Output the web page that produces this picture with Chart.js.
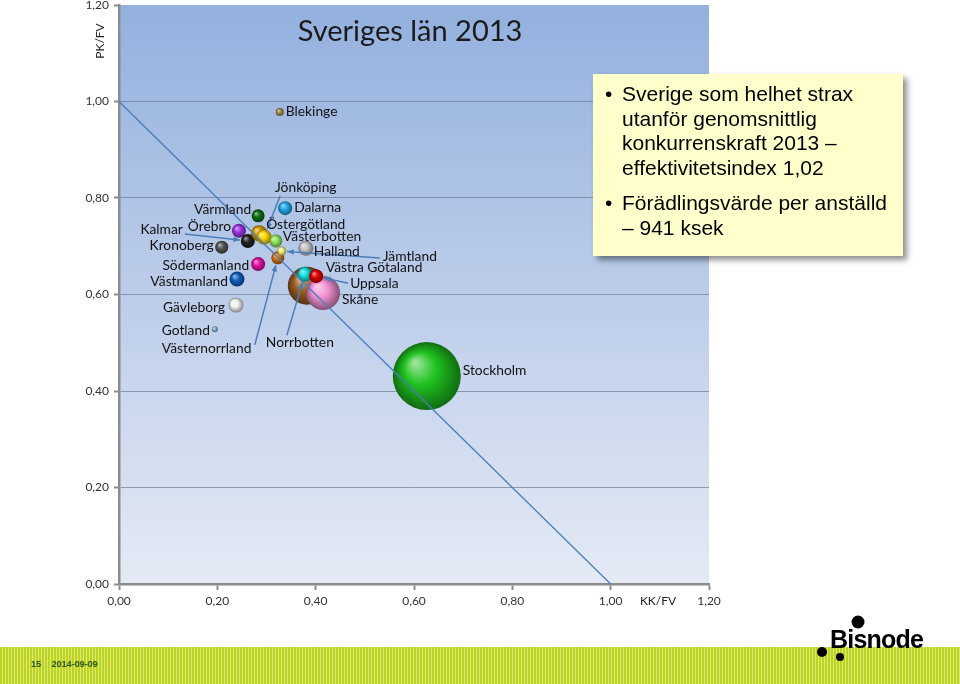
<!DOCTYPE html>
<html>
<head>
<meta charset="utf-8">
<script src="https://cdn.jsdelivr.net/npm/chart.js@4"></script>
<style>
  body { margin: 0; background: #fff; }
  #wrap { position: relative; width: 960px; height: 684px; overflow: hidden; }
  #graf { position: absolute; left: 0; top: 0; }
  #ruta {
    position: absolute; left: 593px; top: 74px; width: 310px; height: 182px;
    background: #ffffcc; box-shadow: 4px 4px 6px rgba(0,0,0,0.45);
    font-family: "Liberation Sans", Arial, sans-serif; font-size: 21px; color: #000;
    box-sizing: border-box; padding: 8px 0 0 29px; line-height: 24.7px; white-space: nowrap;
  }
  #ruta p { margin: 0 0 10px 0; position: relative; }
  #ruta p::before { content: "\2022"; position: absolute; left: -17px; }
  #fot {
    position: absolute; left: 0; top: 647px; width: 960px; height: 37px;
    background: repeating-linear-gradient(90deg, #bdd31c 0 2px, #dce97e 2px 3px);
  }
  #datum {
    position: absolute; left: 31px; top: 659px; font-family: "Liberation Sans", Arial, sans-serif;
    font-size: 9px; font-weight: bold; color: #2f5a16; word-spacing: 8px;
  }
  #logo { position: absolute; left: 812px; top: 612px; }
</style>
</head>
<body>
<div id="wrap">
  <canvas id="graf" width="960" height="684"></canvas>
  <div id="ruta">
    <p>Sverige som helhet strax<br>utanför genomsnittlig<br>konkurrenskraft 2013 –<br>effektivitetsindex 1,02</p>
    <p>Förädlingsvärde per anställd<br>– 941 ksek</p>
  </div>
  <div id="fot"></div>
  <div id="datum">15 2014-09-09</div>
  <svg id="logo" width="120" height="56">
    <circle cx="46" cy="10" r="6.5" fill="#000"/>
    <circle cx="10" cy="40" r="5" fill="#000"/>
    <circle cx="28" cy="45" r="4" fill="#000"/>
    <text x="18" y="36" font-family="Liberation Sans, Arial" font-size="25" font-weight="bold" fill="#000" letter-spacing="-0.8">Bisnode</text>
  </svg>
</div>
<script>
// län, ritordning bakifrån och fram
const regioner = ['Västra Götaland', 'Skåne', 'Norrbotten', 'Uppsala', 'Stockholm', 'Blekinge',
  'Värmland', 'Dalarna', 'Örebro', 'Kalmar', 'Kronoberg', 'Östergötland', 'Jönköping',
  'Västerbotten', 'Halland', 'Västernorrland', 'Jämtland', 'Södermanland', 'Västmanland',
  'Gävleborg', 'Gotland'];
const kkfv = [0.382, 0.415, 0.378, 0.401, 0.626, 0.327,
  0.283, 0.338, 0.244, 0.262, 0.209, 0.285, 0.295,
  0.319, 0.380, 0.323, 0.331, 0.283, 0.240,
  0.238, 0.195];
const pkfv = [0.618, 0.603, 0.642, 0.638, 0.431, 0.978,
  0.763, 0.779, 0.732, 0.711, 0.698, 0.727, 0.719,
  0.711, 0.696, 0.676, 0.690, 0.663, 0.632,
  0.578, 0.528];
const storlek = [19, 17, 7.5, 7, 34, 4,
  6.5, 7, 7, 7, 6.5, 8, 7.5,
  6.5, 7.5, 6.5, 4.5, 7, 7.5,
  7.5, 3];
const xTicks = [0, 0.2, 0.4, 0.6, 0.8, 1.0, 1.2];
const yTicks = [0, 0.2, 0.4, 0.6, 0.8, 1.0, 1.2];
const linjeX = [0, 1];
const linjeY = [1, 0];

const farger = ['#9a5f22', '#f292d2', '#12dede', '#e00000', '#1fc21f', '#a08a42',
  '#0b6b12', '#1fa8ea', '#9b32e2', '#222222', '#555555', '#d99a00', '#ffd400',
  '#8fe25e', '#c4c4c4', '#d2700e', '#eef07c', '#e212a2', '#0f5fc0',
  '#f2f2f2', '#86aed2'];

// etikettlägen relativt bubblan: [dx, dy, justering, pilstart dx, pilstart dy]
const etikettLage = {
  'Blekinge': [6, -1, 'left'],
  'Värmland': [-7, -6, 'right'],
  'Dalarna': [9, -1, 'left'],
  'Örebro': [-8, -4, 'right'],
  'Kalmar': [-65, -11, 'right', -63, -7],
  'Kronoberg': [-8, -2, 'right'],
  'Östergötland': [7, -9, 'left'],
  'Jönköping': [11, -50, 'left', 16, -41],
  'Västerbotten': [7, -4, 'left'],
  'Halland': [8, 3, 'left'],
  'Jämtland': [101, 5, 'left', 98, 7],
  'Västernorrland': [-116, 91, 'left', -23, 87],
  'Södermanland': [-9, 1, 'right'],
  'Västmanland': [-9, 2, 'right'],
  'Gävleborg': [-11, 2, 'right'],
  'Gotland': [-5, 1, 'right'],
  'Västra Götaland': [19, -18, 'left'],
  'Norrbotten': [-39, 68, 'left', -18, 61],
  'Uppsala': [34, 7, 'left', 32, 7],
  'Skåne': [19, 7, 'left'],
  'Stockholm': [36, -5, 'left']
};

const blanda = (hex, mot, t) => {
  const n = parseInt(hex.slice(1), 16);
  const c = [(n >> 16) & 255, (n >> 8) & 255, n & 255];
  return 'rgb(' + c.map((v, k) => Math.round(v + (mot[k] - v) * t)).join(',') + ')';
};
const fmt = v => Number(v).toFixed(2).replace('.', ',');
const linjeFarg = '#4a7ebb';
const textFont = 'Lato, "Open Sans", sans-serif';

function pil(ctx, x1, y1, x2, y2) {
  const a = Math.atan2(y2 - y1, x2 - x1);
  ctx.beginPath();
  ctx.moveTo(x1, y1);
  ctx.lineTo(x2, y2);
  ctx.stroke();
  ctx.beginPath();
  ctx.moveTo(x2, y2);
  ctx.lineTo(x2 - 7 * Math.cos(a - 0.4), y2 - 7 * Math.sin(a - 0.4));
  ctx.lineTo(x2 - 7 * Math.cos(a + 0.4), y2 - 7 * Math.sin(a + 0.4));
  ctx.closePath();
  ctx.fill();
}

const bakgrund = {
  id: 'bakgrund',
  beforeDraw(chart) {
    const { ctx, chartArea: a } = chart;
    const g = ctx.createLinearGradient(0, a.top, 0, a.bottom);
    g.addColorStop(0, '#93b0de');
    g.addColorStop(1, '#e5eaf5');
    ctx.save();
    ctx.fillStyle = g;
    ctx.fillRect(a.left, a.top, a.right - a.left, a.bottom - a.top);
    ctx.restore();
  }
};

const etiketter = {
  id: 'etiketter',
  afterDraw(chart) {
    const { ctx, scales } = chart;
    ctx.save();
    // titel
    ctx.fillStyle = '#1b1b1b';
    ctx.font = '29px ' + textFont;
    ctx.textAlign = 'center';
    ctx.textBaseline = 'middle';
    ctx.fillText('Sveriges län 2013', 410, 32);
    // axeltitlar
    ctx.font = '12px ' + textFont;
    ctx.fillStyle = '#222';
    ctx.fillText('KK/FV', 658, 601);
    ctx.save();
    ctx.translate(100, 41);
    ctx.rotate(-Math.PI / 2);
    ctx.fillText('PK/FV', 0, 0);
    ctx.restore();
    // länsnamn och pilar
    ctx.font = '13.8px ' + textFont;
    ctx.strokeStyle = linjeFarg;
    ctx.fillStyle = linjeFarg;
    ctx.lineWidth = 1.5;
    regioner.forEach((namn, i) => {
      const l = etikettLage[namn];
      if (l.length < 5) return;
      const px = scales.x.getPixelForValue(kkfv[i]);
      const py = scales.y.getPixelForValue(pkfv[i]);
      const sx = px + l[3], sy = py + l[4];
      const d = Math.hypot(px - sx, py - sy);
      const k = (d - storlek[i] - 1) / d;
      pil(ctx, sx, sy, sx + (px - sx) * k, sy + (py - sy) * k);
    });
    ctx.fillStyle = '#111';
    regioner.forEach((namn, i) => {
      const l = etikettLage[namn];
      const px = scales.x.getPixelForValue(kkfv[i]);
      const py = scales.y.getPixelForValue(pkfv[i]);
      ctx.textAlign = l[2];
      ctx.fillText(namn, px + l[0], py + l[1]);
    });
    ctx.restore();
  }
};

new Chart(document.getElementById('graf'), {
  type: 'bubble',
  data: {
    datasets: [
      {
        type: 'line',
        order: 0,
        data: linjeX.map((x, i) => ({ x, y: linjeY[i] })),
        borderColor: linjeFarg,
        borderWidth: 1.3,
        pointRadius: 0,
        fill: false
      },
      {
        order: 1,
        data: regioner.map((n, i) => ({ x: kkfv[i], y: pkfv[i], r: storlek[i] })),
        borderWidth: 0,
        backgroundColor: (c) => {
          const i = c.dataIndex;
          if (c.type !== 'data' || !c.chart.chartArea) return farger[i] || '#888';
          const s = c.chart.scales;
          const px = s.x.getPixelForValue(kkfv[i]);
          const py = s.y.getPixelForValue(pkfv[i]);
          const r = storlek[i];
          const g = c.chart.ctx.createRadialGradient(px - r * 0.35, py - r * 0.4, r * 0.05, px, py, r);
          g.addColorStop(0, blanda(farger[i], [255, 255, 255], 0.55));
          g.addColorStop(0.45, farger[i]);
          g.addColorStop(1, blanda(farger[i], [0, 0, 0], 0.45));
          return g;
        }
      }
    ]
  },
  options: {
    responsive: false,
    animation: false,
    events: [],
    layout: { autoPadding: false, padding: { top: 5, right: 251, left: 0, bottom: 0 } },
    plugins: { legend: { display: false }, tooltip: { enabled: false } },
    scales: {
      x: {
        type: 'linear', min: 0, max: 1.2,
        afterFit: (s) => { s.height = 100; s.paddingLeft = 0; s.paddingRight = 0; },
        afterBuildTicks: (s) => { s.ticks = xTicks.map(v => ({ value: v })); },
        grid: { drawOnChartArea: false, tickLength: 6, tickColor: '#8c8c8c', tickWidth: 2 },
        border: { color: '#8c8c8c', width: 2.5 },
        ticks: { color: '#333', font: { family: textFont, size: 12 }, padding: 4, callback: fmt }
      },
      y: {
        type: 'linear', min: 0, max: 1.2,
        afterFit: (s) => { s.width = 119; s.paddingTop = 0; s.paddingBottom = 0; },
        afterBuildTicks: (s) => { s.ticks = yTicks.map(v => ({ value: v })); },
        grid: {
          color: (c) => (c.tick && c.tick.value > 1.1 ? 'rgba(0,0,0,0)' : 'rgba(115,128,150,0.75)'),
          lineWidth: 1, tickLength: 5, tickColor: '#8c8c8c', tickWidth: 2
        },
        border: { color: '#8c8c8c', width: 2.5 },
        ticks: { color: '#333', font: { family: textFont, size: 12 }, padding: 5, callback: fmt }
      }
    }
  },
  plugins: [bakgrund, etiketter]
});
</script>
</body>
</html>
